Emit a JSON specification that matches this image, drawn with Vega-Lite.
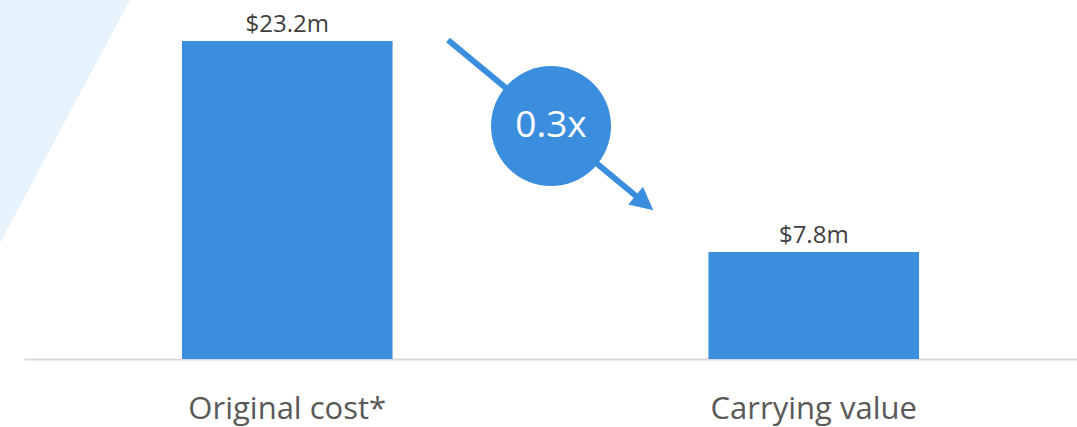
{
  "$schema": "https://vega.github.io/schema/vega-lite/v6.json",
  "width": 1053,
  "height": 359,
  "padding": {"left": 24, "top": 0, "right": 0, "bottom": 68},
  "autosize": {"type": "none"},
  "background": "white",
  "config": {"view": {"stroke": null}, "font": "Open Sans"},
  "datasets": {
    "bars": [
      {"category": "Original cost*", "value": 23.2, "label": "$23.2m"},
      {"category": "Carrying value", "value": 7.8, "label": "$7.8m"}
    ],
    "bg": [
      {"px": -0.0456, "top": 26.2, "bottom": 8.47},
      {"px": 0.2013, "top": 26.2, "bottom": 26.2}
    ],
    "arrow": [
      {"px": 0.8053, "py": 23.28},
      {"px": 1.1624, "py": 11.9}
    ],
    "head": [{"px": 1.1785, "py": 11.39}],
    "bubble": [{"px": 1.001, "py": 17.0, "text": "0.3x"}]
  },
  "layer": [
    {
      "data": {"name": "bg"},
      "mark": {"type": "area", "color": "#e7f3fc", "clip": false},
      "encoding": {
        "x": {"field": "px", "type": "quantitative", "scale": {"domain": [0, 2], "nice": false, "zero": false}, "axis": null},
        "y": {"field": "top", "type": "quantitative", "scale": {"domain": [0, 26.2], "nice": false}, "axis": null},
        "y2": {"field": "bottom"}
      }
    },
    {
      "data": {"name": "bars"},
      "mark": {"type": "bar", "color": "#3b8ede"},
      "encoding": {
        "x": {
          "field": "category", "type": "nominal", "sort": null,
          "scale": {"paddingInner": 0.6, "paddingOuter": 0.3},
          "axis": {
            "title": null, "labelAngle": 0, "ticks": false, "tickSize": 0,
            "domainColor": "#d9d9d9", "domainWidth": 2, "labelLimit": 0,
            "labelFontSize": 31, "labelColor": "#595959",
            "labelBaseline": "alphabetic", "labelPadding": 59
          }
        },
        "y": {"field": "value", "type": "quantitative", "axis": null}
      }
    },
    {
      "data": {"name": "bars"},
      "mark": {"type": "text", "baseline": "alphabetic", "dy": -9, "fontSize": 24, "color": "#404040"},
      "encoding": {
        "x": {"field": "category", "type": "nominal", "sort": null, "axis": null},
        "y": {"field": "value", "type": "quantitative"},
        "text": {"field": "label"}
      }
    },
    {
      "data": {"name": "arrow"},
      "mark": {"type": "line", "color": "#3b8ede", "strokeWidth": 6, "clip": false},
      "encoding": {
        "x": {"field": "px", "type": "quantitative", "scale": {"domain": [0, 2], "nice": false, "zero": false}, "axis": null},
        "y": {"field": "py", "type": "quantitative"}
      }
    },
    {
      "data": {"name": "head"},
      "mark": {"type": "point", "shape": "M -1,-1 L 1,0 L -1,1 Z", "filled": true, "opacity": 1, "color": "#3b8ede", "size": 529, "angle": 39.7},
      "encoding": {
        "x": {"field": "px", "type": "quantitative", "scale": {"domain": [0, 2], "nice": false, "zero": false}, "axis": null},
        "y": {"field": "py", "type": "quantitative"}
      }
    },
    {
      "data": {"name": "bubble"},
      "mark": {"type": "point", "shape": "circle", "filled": true, "opacity": 1, "color": "#3b8ede", "size": 14400},
      "encoding": {
        "x": {"field": "px", "type": "quantitative", "scale": {"domain": [0, 2], "nice": false, "zero": false}, "axis": null},
        "y": {"field": "py", "type": "quantitative"}
      }
    },
    {
      "data": {"name": "bubble"},
      "mark": {"type": "text", "color": "white", "fontSize": 37, "baseline": "middle", "align": "center"},
      "encoding": {
        "x": {"field": "px", "type": "quantitative", "scale": {"domain": [0, 2], "nice": false, "zero": false}, "axis": null},
        "y": {"field": "py", "type": "quantitative"},
        "text": {"field": "text"}
      }
    }
  ],
  "resolve": {"scale": {"x": "independent"}}
}
